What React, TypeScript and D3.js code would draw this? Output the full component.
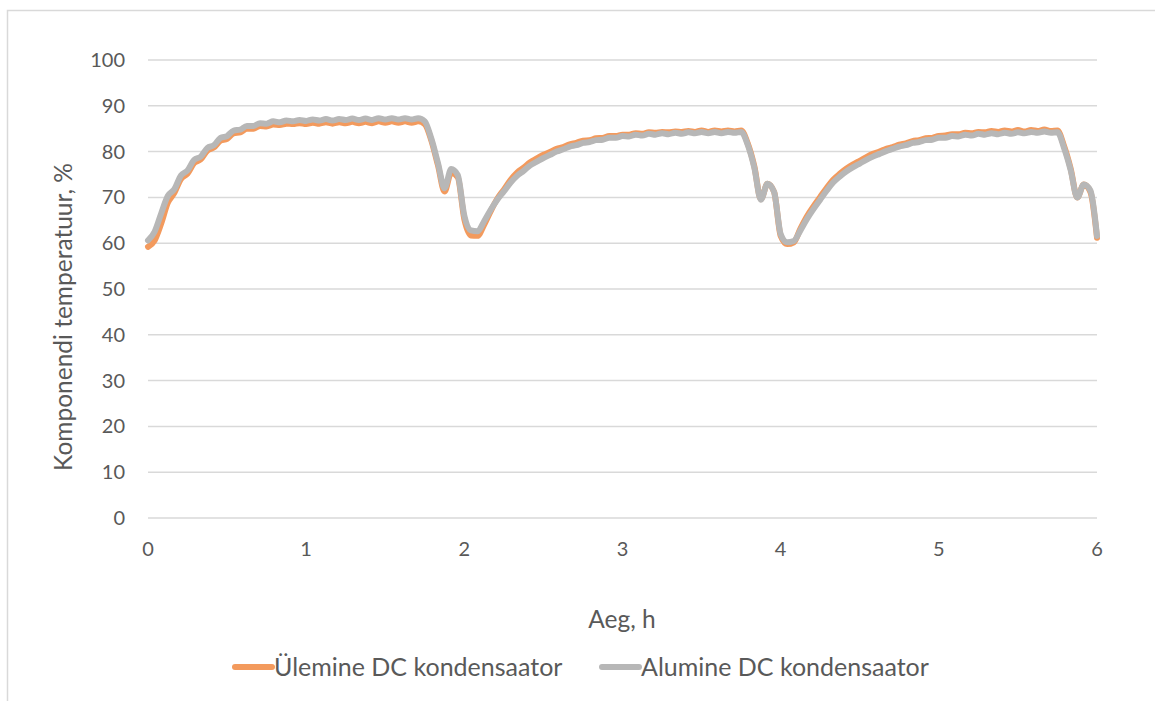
import React from "react";
import * as d3 from "d3";

// sample step: 1/24 h (2.5 min)
const hours: number[] = d3.range(145).map((i) => i / 24);

const upperCap: number[] = [
  59.2, 60.6, 64.3, 68.8, 71.0, 74.0, 75.2, 77.5, 78.3, 80.2, 80.9, 82.4, 82.8, 84.0, 84.2, 85.0, 85.0, 85.6, 85.5, 85.9,
  85.8, 86.1, 86.0, 86.2, 86.0, 86.3, 86.1, 86.4, 86.1, 86.4, 86.2, 86.5, 86.2, 86.5, 86.2, 86.6, 86.3, 86.6, 86.3, 86.6,
  86.3, 86.6, 86.0, 82.4, 77.0, 71.3, 75.4, 74.4, 65.2, 61.7, 61.6, 64.0, 67.0, 69.7, 71.7, 73.8, 75.4, 76.5, 77.7, 78.5,
  79.3, 79.9, 80.6, 81.0, 81.6, 81.9, 82.4, 82.5, 82.9, 83.0, 83.4, 83.4, 83.7, 83.7, 84.0, 83.9, 84.2, 84.1, 84.3, 84.2,
  84.4, 84.3, 84.5, 84.3, 84.6, 84.3, 84.6, 84.4, 84.6, 84.4, 84.6, 81.8, 76.8, 69.6, 73.0, 71.2, 61.6, 59.8, 60.2, 63.2,
  65.9, 68.1, 70.1, 72.1, 73.9, 75.2, 76.3, 77.2, 78.0, 78.8, 79.5, 80.0, 80.6, 81.0, 81.5, 81.8, 82.3, 82.5, 82.9, 83.0,
  83.4, 83.5, 83.8, 83.8, 84.1, 84.0, 84.3, 84.2, 84.5, 84.3, 84.6, 84.4, 84.7, 84.4, 84.7, 84.5, 84.8, 84.5, 84.6, 81.2,
  76.3, 70.0, 72.8, 71.2, 61.2,
];

const lowerCap: number[] = [
  60.6, 62.5, 66.5, 70.3, 71.8, 74.8, 75.9, 78.2, 78.9, 80.8, 81.4, 83.0, 83.4, 84.6, 84.8, 85.6, 85.6, 86.2, 86.1, 86.6,
  86.4, 86.8, 86.6, 86.9, 86.7, 87.0, 86.8, 87.1, 86.8, 87.1, 86.9, 87.2, 86.9, 87.2, 86.9, 87.3, 87.0, 87.3, 87.0, 87.3,
  87.0, 87.3, 86.6, 82.8, 77.5, 72.0, 76.2, 74.9, 66.0, 62.8, 62.6, 64.8, 67.3, 69.5, 71.3, 73.2, 74.7, 75.8, 77.0, 77.8,
  78.6, 79.3, 80.0, 80.5, 81.1, 81.4, 81.9, 82.1, 82.5, 82.6, 83.0, 83.0, 83.4, 83.3, 83.7, 83.5, 83.9, 83.7, 84.0, 83.8,
  84.1, 83.9, 84.2, 84.0, 84.3, 84.0, 84.3, 84.0, 84.3, 84.1, 84.3, 81.5, 76.5, 69.5, 73.0, 71.2, 62.0, 60.2, 60.5, 62.8,
  65.3, 67.5, 69.5, 71.5, 73.3, 74.6, 75.7, 76.6, 77.4, 78.2, 78.9, 79.5, 80.1, 80.6, 81.1, 81.4, 81.9, 82.1, 82.5, 82.6,
  83.0, 83.0, 83.4, 83.3, 83.7, 83.5, 83.9, 83.7, 84.0, 83.8, 84.1, 83.9, 84.2, 84.0, 84.3, 84.1, 84.4, 84.1, 84.2, 80.8,
  76.0, 70.0, 72.8, 71.5, 61.6,
];

const yTicks: number[] = [0, 10, 20, 30, 40, 50, 60, 70, 80, 90, 100];
const xTicks: number[] = [0, 1, 2, 3, 4, 5, 6];

const seriesNames: string[] = ["Ülemine DC kondensaator", "Alumine DC kondensaator"];
const seriesColors: string[] = ["#F39A5D", "#B7B7B7"];

const FONT = "Lato, 'Open Sans', sans-serif";
const TEXT = "#595959";
const GRID = "#D9D9D9";

export default function App() {
  const W = 1155;
  const H = 701;
  const x = d3.scaleLinear().domain([0, 6]).range([148, 1097]);
  const y = d3.scaleLinear().domain([0, 100]).range([518, 60]);

  const line = d3
    .line<number>()
    .x((_, i) => x(hours[i]))
    .y((d) => y(d))
    .curve(d3.curveMonotoneX);

  const series = [upperCap, lowerCap];
  const legendX = [235, 602];

  return (
    <svg
      width={W}
      height={H}
      style={{ position: "absolute", left: 0, top: 0, background: "#fff" }}
      fontFamily={FONT}
    >
      <rect x={7.5} y={10.5} width={1200} height={800} fill="#fff" stroke={GRID} strokeWidth={1.5} />
      {yTicks.map((t) => (
        <g key={t}>
          <line x1={x(0)} x2={x(6)} y1={y(t)} y2={y(t)} stroke={GRID} strokeWidth={1.5} />
          <text x={125} y={y(t)} dy="0.35em" textAnchor="end" fontSize={20} fill={TEXT}>
            {t}
          </text>
        </g>
      ))}
      {xTicks.map((t) => (
        <text key={t} x={x(t)} y={549} dy="0.35em" textAnchor="middle" fontSize={20} fill={TEXT}>
          {t}
        </text>
      ))}
      <text x={622} y={619} dy="0.35em" textAnchor="middle" fontSize={24.5} fill={TEXT}>
        Aeg, h
      </text>
      <text
        transform={`translate(63, ${(y(0) + y(100)) / 2 + 28}) rotate(-90)`}
        textAnchor="middle"
        dy="0.35em"
        fontSize={24.5}
        fill={TEXT}
      >
        Komponendi temperatuur, %
      </text>
      {series.map((s, k) => (
        <path
          key={k}
          d={line(s) || ""}
          fill="none"
          stroke={seriesColors[k]}
          strokeWidth={6}
          strokeLinejoin="round"
          strokeLinecap="round"
        />
      ))}
      {seriesNames.map((n, k) => {
        const lx = legendX[k];
        return (
          <g key={n}>
            <line x1={lx} x2={lx + 37} y1={667} y2={667} stroke={seriesColors[k]} strokeWidth={6} strokeLinecap="round" />
            <text x={lx + 39} y={667} dy="0.35em" fontSize={25} fill={TEXT}>
              {n}
            </text>
          </g>
        );
      })}
    </svg>
  );
}
